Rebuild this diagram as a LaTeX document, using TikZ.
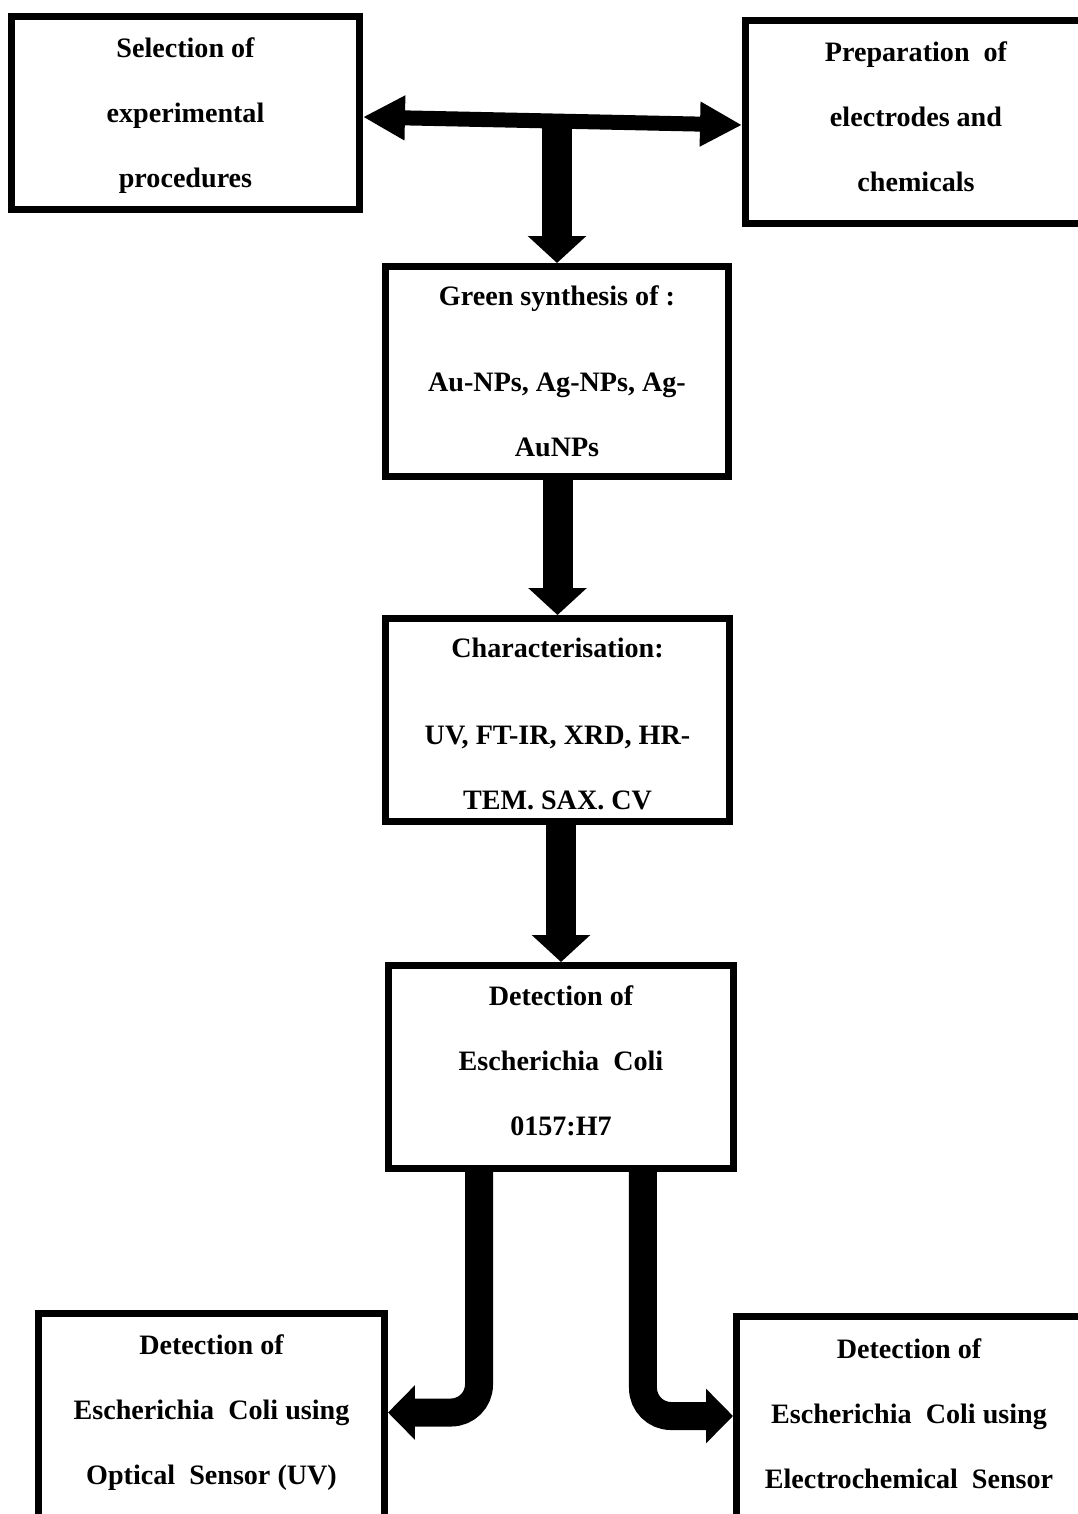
\documentclass[tikz,border=0pt]{standalone}
\usepackage{fontspec}
\setmainfont{Liberation Serif}
\usetikzlibrary{arrows.meta,calc}

\tikzset{
  stage/.style={draw=black, line width=0.13cm, inner sep=0pt, fill=white},
  label text/.style={inner sep=0pt, font=\fontsize{16}{37}\selectfont\bfseries, align=center},
  thin flow/.style={line width=0.3cm, {Triangle[length=0.84cm,width=0.84cm]}-{Triangle[length=0.84cm,width=0.84cm]}},
  flow/.style={line width=0.6cm, -{Triangle[length=0.54cm,width=1.14cm]}},
  bent flow/.style={line width=0.56cm, rounded corners=0.56cm, -{Triangle[length=0.54cm,width=1.06cm]}}
}

\begin{document}
\begin{tikzpicture}[x=0.02cm, y=-0.02cm]
\useasboundingbox (0,0) rectangle (1078,1514);
\clip (0,0) rectangle (1078,1514);
\fill[white] (0,0) rectangle (1078,1514);

% process stages (frames)
\node[stage, minimum width=6.97cm, minimum height=3.87cm] (b1) at (185.5,113) {};
\node[stage, minimum width=6.83cm, minimum height=4.07cm] (b2) at (916,122) {};
\node[stage, minimum width=6.87cm, minimum height=4.21cm] (b3) at (557,371.5) {};
\node[stage, minimum width=6.89cm, minimum height=4.07cm] (b4) at (557.5,720) {};
\node[stage, minimum width=6.91cm, minimum height=4.07cm] (b5) at (561,1067) {};
\node[stage, minimum width=6.93cm, minimum height=5cm] (b6) at (211.5,1438.25) {};
\node[stage, minimum width=6.91cm, minimum height=5cm] (b7) at (909,1441.25) {};

% stage texts
\node[label text] (t1) at (185.5,116)
  {Selection of\\experimental\\procedures};
\node[label text] (t2) at (916,116.5)
  {Preparation\ \ of\\electrodes and\\chemicals};
\node[label text] (t3) at (557,371.5)
  {Green synthesis of :\\[12pt]Au-NPs, Ag-NPs, Ag-\\AuNPs};
\node[label text] (t4) at (557.5,724)
  {Characterisation:\\[12.5pt]UV, FT-IR, XRD, HR-\\TEM. SAX. CV};
\node[label text] (t5) at (561,1060.5)
  {Detection of\\Escherichia\ \ Coli\\0157:H7};
\node[label text] (t6) at (211.5,1413)
  {Detection of\\Escherichia\ \ Coli using\\Optical\ \ Sensor (UV)};
\node[label text] (t7) at (909,1414)
  {Detection of\\Escherichia\ \ Coli using\\Electrochemical\ \ Sensor};

% connectors
\draw[thin flow] ([yshift=-0.08cm]b1.east) -- ([yshift=-0.06cm]b2.west);
\coordinate (j) at ($([yshift=-0.08cm]b1.east)!0.5!([yshift=-0.06cm]b2.west)$);
\draw[flow] (b3.north |- j) -- (b3.north);
\draw[flow] (b4.north |- b3.south) -- (b4.north);
\draw[flow] (b5.north |- b4.south) -- (b5.north);
\draw[bent flow] ([xshift=-1.64cm]b5.south) |- ([yshift=-2.05cm]b6.north east);
\draw[bent flow] ([xshift=1.64cm]b5.south) |- ([yshift=-2.06cm]b7.north west);
\end{tikzpicture}
\end{document}
